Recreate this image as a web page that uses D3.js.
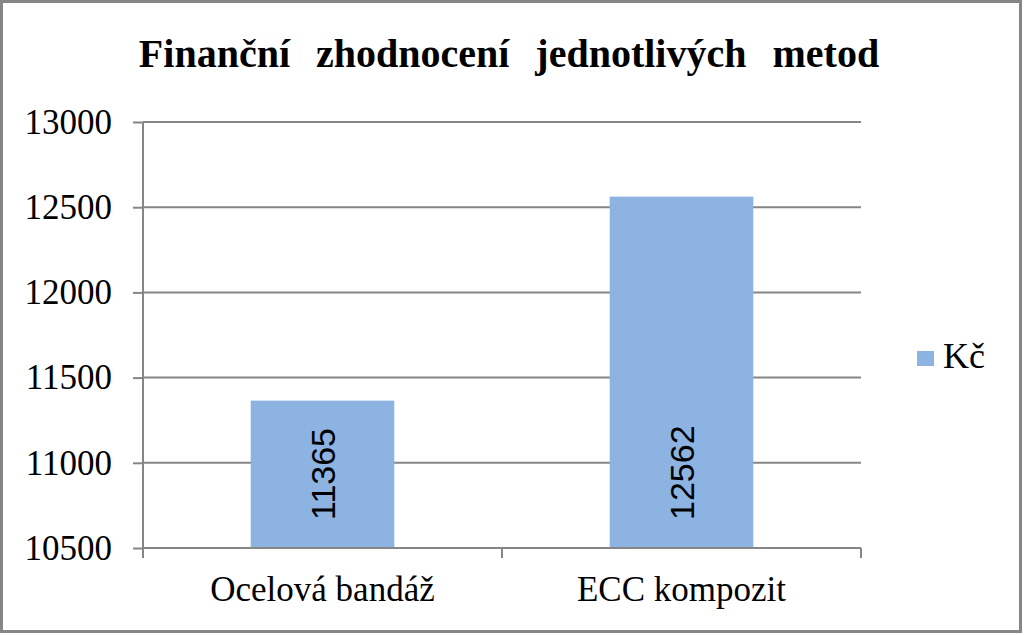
<!DOCTYPE html>
<html lang="cs">
<head>
    <meta charset="UTF-8">
    <title>Finanční zhodnocení jednotlivých metod</title>
    <script src="https://d3js.org/d3.v7.min.js"></script>
    <style>
        body { margin: 0; background: white; }
        svg { display: block; }
        .serif { font-family: "Liberation Serif", "Times New Roman", serif; fill: #000; }
        .axis path, .axis line { stroke: #868686; stroke-width: 2; }
    </style>
</head>
<body>
    <svg width="1024" height="635"></svg>
    <script>
        const categories = ["Ocelová bandáž", "ECC kompozit"];
        const values = [11365, 12562];
        const yTicks = [10500, 11000, 11500, 12000, 12500, 13000];
        const seriesName = "Kč";
        const title = "Finanční zhodnocení jednotlivých metod";

        const svg = d3.select("svg");
        const margin = { top: 122, right: 163, bottom: 87, left: 143 };
        const width = 1024, height = 635;

        // outer chart border
        svg.append("rect")
            .attr("x", 1.5).attr("y", 1.5)
            .attr("width", 1019).attr("height", 630)
            .attr("fill", "white")
            .attr("stroke", "#868686")
            .attr("stroke-width", 3);

        const x = d3.scaleBand()
            .domain(categories)
            .range([margin.left, width - margin.right])
            .paddingInner(0.6)
            .paddingOuter(0.3);

        const y = d3.scaleLinear()
            .domain([10500, 13000])
            .range([height - margin.bottom, margin.top]);

        // gridlines
        svg.append("g")
            .selectAll("line")
            .data(yTicks.slice(1))
            .join("line")
            .attr("x1", margin.left).attr("x2", width - margin.right)
            .attr("y1", d => y(d)).attr("y2", d => y(d))
            .attr("stroke", "#868686").attr("stroke-width", 2);

        // bars
        svg.selectAll(".bar")
            .data(values)
            .join("rect")
            .attr("class", "bar")
            .attr("x", (d, i) => x(categories[i]))
            .attr("y", d => y(d))
            .attr("width", x.bandwidth())
            .attr("height", d => y(10500) - y(d))
            .attr("fill", "#8DB3E2");

        // value labels, rotated, anchored at the bar base
        svg.selectAll(".val")
            .data(values)
            .join("text")
            .attr("class", "val")
            .attr("transform", (d, i) => {
                const cx = x(categories[i]) + x.bandwidth() / 2;
                return `translate(${cx},${y(10500) - 28}) rotate(-90)`;
            })
            .attr("text-anchor", "start")
            .attr("dy", "0.36em")
            .style("font-family", "'Liberation Sans', Arial, sans-serif")
            .style("font-size", "34px")
            .attr("fill", "#000")
            .text(d => d);

        // y axis
        const yAxis = svg.append("g")
            .attr("class", "axis")
            .attr("transform", `translate(${margin.left},0)`)
            .call(d3.axisLeft(y).tickValues(yTicks).tickSize(10).tickPadding(21).tickFormat(d3.format("d")));
        yAxis.select(".domain").attr("d", `M0,${margin.top}V${height - margin.bottom + 10}`);
        yAxis.selectAll("text")
            .attr("class", "serif")
            .style("font-size", "35px");

        // x axis: ticks between categories, like the spreadsheet chart
        const xAxis = svg.append("g")
            .attr("class", "axis")
            .attr("transform", `translate(0,${height - margin.bottom})`);
        xAxis.append("path")
            .attr("d", `M${margin.left},0H${width - margin.right}`)
            .attr("fill", "none");
        const step = x.step();
        const bounds = [margin.left, margin.left + step, width - margin.right];
        xAxis.selectAll(".tk")
            .data(bounds)
            .join("line")
            .attr("x1", d => d).attr("x2", d => d)
            .attr("y1", 0).attr("y2", 10);
        xAxis.selectAll(".cat")
            .data(categories)
            .join("text")
            .attr("class", "serif")
            .attr("x", d => x(d) + x.bandwidth() / 2)
            .attr("y", 53)
            .attr("text-anchor", "middle")
            .style("font-size", "35px")
            .text(d => d);

        // title
        svg.append("text")
            .attr("class", "serif")
            .attr("x", 509)
            .attr("y", 67)
            .attr("text-anchor", "middle")
            .style("font-size", "40px")
            .style("font-weight", "bold")
            .style("word-spacing", "16px")
            .text(title);

        // legend
        const legend = svg.append("g").attr("transform", "translate(917,351)");
        legend.append("rect")
            .attr("width", 17).attr("height", 15)
            .attr("fill", "#8DB3E2");
        legend.append("text")
            .attr("class", "serif")
            .attr("x", 26)
            .attr("y", 17)
            .style("font-size", "36px")
            .text(seriesName);
    </script>
</body>
</html>
